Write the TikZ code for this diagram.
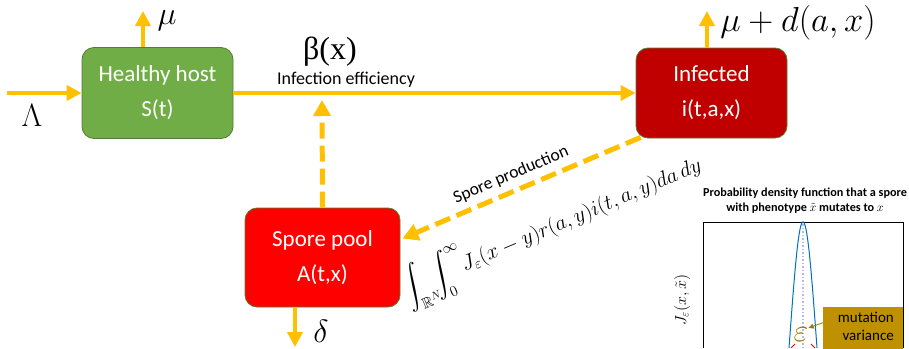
\RequirePackage{fix-cm}
\documentclass[tikz,border=0pt]{standalone}
\usepackage{amssymb}
\usepackage[no-math]{fontspec}
\setmainfont{Carlito}
\newfontfamily\serifb{Liberation Serif}
\usetikzlibrary{arrows.meta,calc}
\definecolor{gold}{HTML}{FFC000}
\definecolor{hgreen}{HTML}{70AD47}
\definecolor{hgreenb}{HTML}{507E32}
\definecolor{infred}{HTML}{C00000}
\definecolor{spred}{HTML}{FF0000}
\definecolor{boxb}{HTML}{5A7A32}
\definecolor{mutbox}{HTML}{BF9000}
\definecolor{epsc}{HTML}{9C7A00}
\definecolor{curveblue}{HTML}{0070C0}
\definecolor{lav}{HTML}{B8B8F0}
\tikzset{
  box/.style={rounded corners=12pt, line width=0.8pt, text=white, align=center,
    font=\fontsize{23}{35}\selectfont, inner sep=0pt},
  arr/.style={draw=gold, line width=4pt, -{Triangle[length=15pt,width=15pt]}},
  darr/.style={draw=gold, line width=5pt, dash pattern=on 16pt off 7pt, -{Triangle[length=16pt,width=17pt]}},
  mathlab/.style={font=\fontsize{28}{32}\selectfont, inner sep=0pt},
}
\begin{document}
\begin{tikzpicture}[x=1pt,y=-1pt]
\useasboundingbox (0,0) rectangle (909,348);
% boxes
\node[box, fill=hgreen, draw=hgreenb, minimum width=151pt, minimum height=91pt] (hh) at (157.5,93) {Healthy host\\S(t)};
\node[box, fill=infred, draw=boxb, minimum width=151pt, minimum height=90pt] (inf) at (711.5,93) {Infected\\i(t,a,x)};
\node[box, fill=spred, draw=boxb, minimum width=155pt, minimum height=99pt] (sp) at (322.5,257.5) {Spore pool\\A(t,x)};
% arrows
\coordinate (lamS) at (7,93);
\draw[arr] (lamS) -- (hh.west);
\coordinate (muT) at (143,11);
\draw[arr] (muT |- hh.north) -- (muT);
\coordinate (mdT) at (707,11);
\draw[arr] (mdT |- inf.north) -- (mdT);
\draw[arr] (hh.east) -- (inf.west);
\coordinate (delT) at (295,347);
\draw[arr] (delT |- sp.south) -- (delT);
\coordinate (upT) at (322,100);
\draw[darr] (sp.north) -- (upT);
\draw[darr] ($(inf.south west)+(5,-1)$) -- ($(sp.east)+(2,-19)$);
% labels
\node[mathlab, scale=1.15] (lam) at (32,115) {$\Lambda$};
\node[mathlab, scale=1.15] (mu) at (167,21) {$\mu$};
\node[mathlab, anchor=west, scale=1.24] (mud) at (720,23) {$\mu+d(a,x)$};
\node[mathlab, scale=1.15] (del) at (321,331) {$\delta$};
\node[font=\serifb\fontsize{32}{36}\selectfont, inner sep=0pt] (beta) at (330,52) {β(x)};
\node[font=\fontsize{18}{20}\selectfont, inner sep=0pt] (infeff) at (346,80) {Infection efficiency};
\node[font=\fontsize{17.5}{20}\selectfont, inner sep=0pt, rotate=23] (spprod) at (511,175) {Spore production};
\node[font=\fontsize{21.5}{24}\selectfont, inner sep=0pt, rotate=23, anchor=east] (formula) at (701,165)
  {$\displaystyle\int_{\mathbb{R}^N}\!\!\int_0^\infty\!\! J_\varepsilon(x-y)r(a,y)i(t,a,y)da\,dy$};
% density plot
\node[font=\bfseries\fontsize{12.2}{15}\selectfont, align=center, inner sep=0pt] (ttl) at (805,201)
  {Probability density function that a spore\\with phenotype $\tilde{x}$ mutates to $x$};
\node[font=\fontsize{16}{20}\selectfont, inner sep=0pt, rotate=90] (ylab) at (682,300) {$J_\varepsilon(x,\tilde{x})$};
\draw[line width=1pt] (703,348) -- (703,222) -- (903,222) -- (903,348);
\draw[lav, line width=1.5pt, dotted] (803,224) -- (803,348);
\draw[curveblue, line width=1pt] plot[domain=-14:14, samples=80] ({803+\x},{222+300*(1-exp(-\x*\x/360))});
\node[fill=mutbox, minimum width=80pt, minimum height=45pt, anchor=north west, inner sep=0pt] (mut) at (823,307) {};
\node[font=\fontsize{15}{18}\selectfont, align=right, inner sep=0pt, anchor=north east] (muttxt) at (894,312) {mutation\\variance};
\node[font=\fontsize{28}{30}\selectfont, text=epsc, inner sep=0pt, scale=1.15] (eps) at (801,335) {$\varepsilon$};
\draw[epsc, line width=0.8pt, -{Triangle[length=5pt,width=5pt]}] ($(mut.west)+(0,-7)$) -- (eps.north east);
\draw[red, line width=1pt] (791,348) -- (795,344);
\draw[red, line width=1pt] (811,344) -- (815,348);
\end{tikzpicture}
\end{document}
